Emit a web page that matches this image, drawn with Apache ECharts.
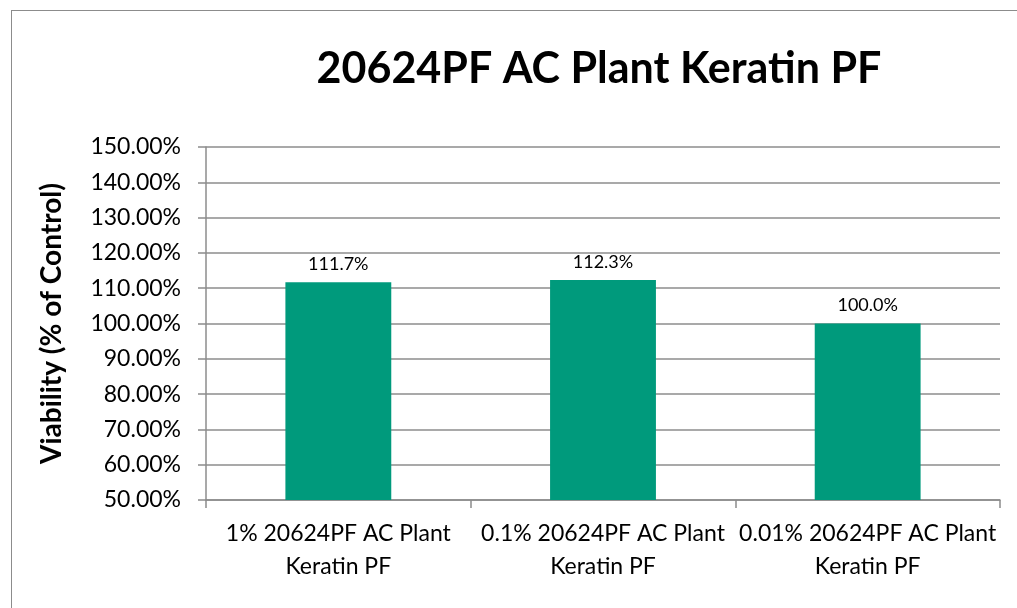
<!DOCTYPE html>
<html>
<head>
<meta charset="utf-8">
<script src="https://cdn.jsdelivr.net/npm/echarts@6/dist/echarts.min.js"></script>
<style>
  html, body { margin: 0; padding: 0; background: #fff; overflow: hidden; }
  #frame { position: absolute; left: 11px; top: 10px; width: 1100px; height: 700px; border: 1px solid #8c8c8c; }
  #main { position: absolute; left: 0; top: 0; width: 1017px; height: 608px; }
</style>
</head>
<body>
<div id="frame"></div>
<div id="main"></div>
<script>
// chart data
const titleText = '20624PF AC Plant Keratin PF';
const yAxisName = 'Viability (% of Control)';
const categories = [
  '1% 20624PF AC Plant Keratin PF',
  '0.1% 20624PF AC Plant Keratin PF',
  '0.01% 20624PF AC Plant Keratin PF'
];
const viability = [111.7, 112.3, 100.0];
const yMin = 50;
const yMax = 150;
const yStep = 10;

const fontFam = 'Lato, "Noto Sans", sans-serif';
const lineColor = '#8c8c8c';

const myChart = echarts.init(document.getElementById('main'), null, { renderer: 'canvas' });

const option = {
  animation: false,
  title: {
    text: titleText,
    left: 594,
    top: 43,
    textAlign: 'center',
    textStyle: { fontFamily: fontFam, fontWeight: 'bold', fontSize: 43, color: '#000' }
  },
  grid: { left: 206, right: 17, top: 147, bottom: 108, containLabel: false },
  xAxis: {
    type: 'category',
    data: categories,
    axisLine: { lineStyle: { color: lineColor, width: 1.5 } },
    axisTick: { show: true, length: 8, lineStyle: { color: lineColor, width: 1.5 } },
    axisLabel: {
      interval: 0,
      margin: 17,
      fontFamily: fontFam,
      fontSize: 23,
      lineHeight: 33,
      color: '#000',
      formatter: v => v.replace(' Keratin', '\nKeratin')
    }
  },
  yAxis: {
    type: 'value',
    min: yMin,
    max: yMax,
    interval: yStep,
    name: yAxisName,
    nameLocation: 'middle',
    nameGap: 140,
    nameRotate: 90,
    nameTextStyle: { fontFamily: fontFam, fontWeight: 'bold', fontSize: 28, color: '#000' },
    axisLine: { show: true, lineStyle: { color: lineColor, width: 1.5 } },
    axisTick: { show: true, length: 8, lineStyle: { color: lineColor, width: 1.5 } },
    splitLine: { lineStyle: { color: lineColor, width: 1.5 } },
    axisLabel: {
      margin: 25,
      fontFamily: fontFam,
      fontSize: 23,
      color: '#000',
      formatter: v => v.toFixed(2) + '%'
    }
  },
  series: [{
    type: 'bar',
    data: viability,
    barWidth: '40%',
    itemStyle: { color: '#009a7c' },
    label: {
      show: true,
      position: 'top',
      distance: 9,
      fontFamily: fontFam,
      fontSize: 18,
      color: '#000',
      formatter: p => p.value.toFixed(1) + '%'
    }
  }]
};

myChart.setOption(option);
</script>
</body>
</html>
